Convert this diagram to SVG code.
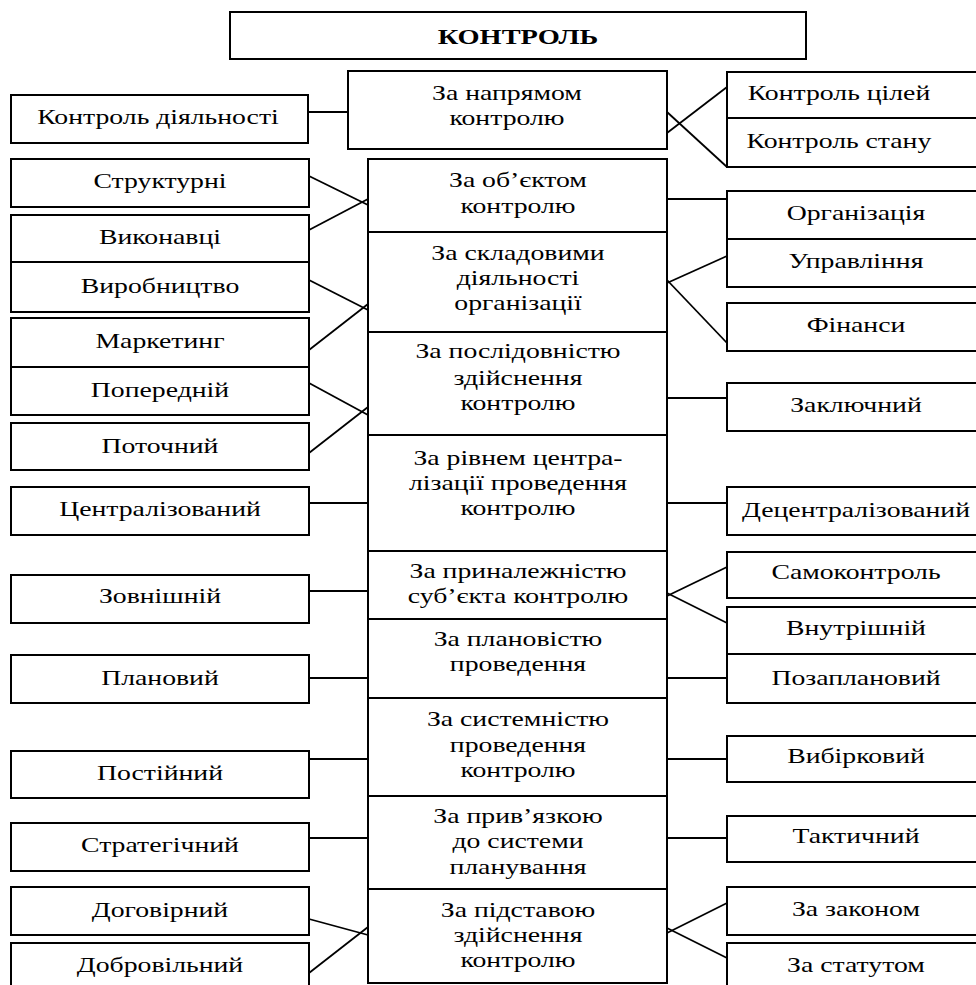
<svg xmlns="http://www.w3.org/2000/svg" width="976" height="985" viewBox="0 0 976 985">
<style>
rect{fill:#fff;stroke:#000;stroke-width:2}
text{font-family:'Liberation Serif','Times New Roman',serif;font-size:21.5px;fill:#000;text-anchor:middle;transform-box:fill-box;transform-origin:center;transform:scaleX(1.29)}
.b{font-weight:bold;font-size:22px}
#conn line{stroke:#000;stroke-width:1.8}
</style>
<rect width="976" height="985" style="stroke:none"/>
<g id="conn">
<line x1="308" y1="112" x2="348" y2="112"/>
<line x1="667" y1="112" x2="727" y2="167"/>
<line x1="667" y1="133" x2="727" y2="87"/>
<line x1="309" y1="176" x2="368" y2="205"/>
<line x1="309" y1="230" x2="368" y2="199"/>
<line x1="309" y1="280" x2="368" y2="310"/>
<line x1="309" y1="350" x2="368" y2="304"/>
<line x1="309" y1="383" x2="368" y2="415"/>
<line x1="309" y1="453" x2="368" y2="407"/>
<line x1="667" y1="199" x2="727" y2="199"/>
<line x1="667" y1="283" x2="727" y2="256"/>
<line x1="667" y1="280" x2="727" y2="343"/>
<line x1="667" y1="398" x2="727" y2="398"/>
<line x1="309" y1="503" x2="368" y2="503"/>
<line x1="667" y1="503" x2="727" y2="503"/>
<line x1="309" y1="591" x2="368" y2="591"/>
<line x1="667" y1="596" x2="727" y2="567"/>
<line x1="667" y1="593" x2="727" y2="623"/>
<line x1="309" y1="678" x2="368" y2="678"/>
<line x1="667" y1="678" x2="727" y2="678"/>
<line x1="309" y1="759" x2="368" y2="759"/>
<line x1="667" y1="759" x2="727" y2="759"/>
<line x1="309" y1="838" x2="368" y2="838"/>
<line x1="667" y1="838" x2="727" y2="838"/>
<line x1="309" y1="919" x2="368" y2="935"/>
<line x1="309" y1="973" x2="368" y2="927"/>
<line x1="667" y1="933" x2="727" y2="903"/>
<line x1="667" y1="928" x2="727" y2="958"/>
</g>

<g id="root"><rect x="230" y="12" width="576" height="47"/><text class="b" x="518" y="44">КОНТРОЛЬ</text></g>

<g id="n-napr"><rect x="348" y="71" width="319" height="78"/><text x="507" y="100">За напрямом</text><text x="507" y="125">контролю</text></g>
<g id="l-diyal"><rect x="11" y="95" width="297" height="48"/><text x="158" y="124">Контроль діяльності</text></g>
<g id="r-tsil"><rect x="727" y="72" width="260" height="46"/><text x="839" y="100">Контроль цілей</text></g>
<g id="r-stan"><rect x="727" y="118" width="260" height="49"/><text x="839" y="148">Контроль стану</text></g>

<g id="c-obj"><rect x="368" y="159" width="299" height="73"/><text x="518" y="187">За об’єктом</text><text x="518" y="213">контролю</text></g>
<g id="c-sklad"><rect x="368" y="232" width="299" height="100"/><text x="518" y="260">За складовими</text><text x="518" y="285">діяльності</text><text x="518" y="310">організації</text></g>
<g id="c-posl"><rect x="368" y="332" width="299" height="103"/><text x="518" y="358">За послідовністю</text><text x="518" y="385">здійснення</text><text x="518" y="410">контролю</text></g>
<g id="c-riv"><rect x="368" y="435" width="299" height="116"/><text x="518" y="465">За рівнем центра-</text><text x="518" y="490">лізації проведення</text><text x="518" y="515">контролю</text></g>
<g id="c-prin"><rect x="368" y="551" width="299" height="68"/><text x="518" y="578">За приналежністю</text><text x="518" y="603">суб’єкта контролю</text></g>
<g id="c-plan"><rect x="368" y="619" width="299" height="79"/><text x="518" y="646">За плановістю</text><text x="518" y="671">проведення</text></g>
<g id="c-sys"><rect x="368" y="698" width="299" height="98"/><text x="518" y="726">За системністю</text><text x="518" y="752">проведення</text><text x="518" y="777">контролю</text></g>
<g id="c-priv"><rect x="368" y="796" width="299" height="93"/><text x="518" y="823">За прив’язкою</text><text x="518" y="848">до системи</text><text x="518" y="874">планування</text></g>
<g id="c-pid"><rect x="368" y="889" width="299" height="94"/><text x="518" y="917">За підставою</text><text x="518" y="942">здійснення</text><text x="518" y="967">контролю</text></g>

<g id="l-strukt"><rect x="11" y="159" width="298" height="48"/><text x="160" y="188">Структурні</text></g>
<g id="l-vykon"><rect x="11" y="215" width="298" height="47"/><text x="160" y="244">Виконавці</text></g>
<g id="l-vyrob"><rect x="11" y="262" width="298" height="50"/><text x="160" y="293">Виробництво</text></g>
<g id="l-market"><rect x="11" y="318" width="298" height="49"/><text x="160" y="348">Маркетинг</text></g>
<g id="l-poper"><rect x="11" y="367" width="298" height="48"/><text x="160" y="397">Попередній</text></g>
<g id="l-potoch"><rect x="11" y="423" width="298" height="47"/><text x="160" y="453">Поточний</text></g>
<g id="l-tsentr"><rect x="11" y="487" width="298" height="48"/><text x="160" y="516">Централізований</text></g>
<g id="l-zovn"><rect x="11" y="575" width="298" height="48"/><text x="160" y="603">Зовнішній</text></g>
<g id="l-planov"><rect x="11" y="655" width="298" height="48"/><text x="160" y="685">Плановий</text></g>
<g id="l-postiy"><rect x="11" y="751" width="298" height="47"/><text x="160" y="780">Постійний</text></g>
<g id="l-strat"><rect x="11" y="823" width="298" height="48"/><text x="160" y="852">Стратегічний</text></g>
<g id="l-dogov"><rect x="11" y="887" width="298" height="48"/><text x="160" y="917">Договірний</text></g>
<g id="l-dobr"><rect x="11" y="943" width="298" height="60"/><text x="160" y="972">Добровільний</text></g>

<g id="r-org"><rect x="727" y="191" width="260" height="48"/><text x="856" y="220">Організація</text></g>
<g id="r-upr"><rect x="727" y="239" width="260" height="48"/><text x="856" y="268">Управління</text></g>
<g id="r-fin"><rect x="727" y="303" width="260" height="48"/><text x="856" y="332">Фінанси</text></g>
<g id="r-zakl"><rect x="727" y="383" width="260" height="48"/><text x="856" y="412">Заключний</text></g>
<g id="r-detsentr"><rect x="727" y="487" width="260" height="48"/><text x="856" y="517">Децентралізований</text></g>
<g id="r-samo"><rect x="727" y="552" width="260" height="46"/><text x="856" y="579">Самоконтроль</text></g>
<g id="r-vnutr"><rect x="727" y="607" width="260" height="47"/><text x="856" y="635">Внутрішній</text></g>
<g id="r-pozapl"><rect x="727" y="654" width="260" height="49"/><text x="856" y="685">Позаплановий</text></g>
<g id="r-vybir"><rect x="727" y="736" width="260" height="46"/><text x="856" y="763">Вибірковий</text></g>
<g id="r-takt"><rect x="727" y="816" width="260" height="46"/><text x="856" y="843">Тактичний</text></g>
<g id="r-zakon"><rect x="727" y="887" width="260" height="48"/><text x="856" y="916">За законом</text></g>
<g id="r-statut"><rect x="727" y="943" width="260" height="60"/><text x="856" y="972">За статутом</text></g>
</svg>
